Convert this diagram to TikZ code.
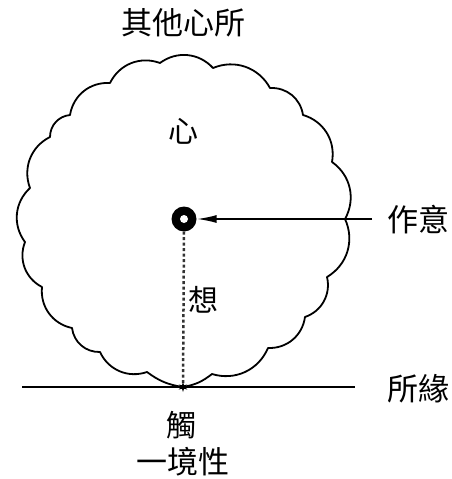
\documentclass[tikz,border=0pt]{standalone}
\usepackage{fontspec}
\newfontfamily\cjk{Noto Sans CJK TC}
\usetikzlibrary{arrows.meta,shapes.geometric}
\begin{document}
\begin{tikzpicture}[x=1pt,y=-1pt,
  lbl/.style={font=\cjk\fontsize{31}{32}\selectfont, inner sep=0pt},
  slbl/.style={font=\cjk\fontsize{30}{31}\selectfont, inner sep=0pt},
  cloudline/.style={line width=1.8pt, line join=round},
  bump/.style={bend left=42},
  flat/.style={bend left=14}]
\useasboundingbox (0,0) rectangle (452,479);
% cloud cusp points
\coordinate (c0) at (183,387);
\coordinate (c1) at (147,372);
\coordinate (c2) at (100,352);
\coordinate (c3) at (72,328);
\coordinate (c4) at (42,287);
\coordinate (c5) at (25,242);
\coordinate (c6) at (30,188);
\coordinate (c7) at (50,137);
\coordinate (c8) at (70,115);
\coordinate (c9) at (110,83);
\coordinate (c10) at (160,63);
\coordinate (c11) at (213,68);
\coordinate (c12) at (270,88);
\coordinate (c13) at (303,115);
\coordinate (c14) at (332,162);
\coordinate (c15) at (345,219);
\coordinate (c16) at (327,277);
\coordinate (c17) at (305,317);
\coordinate (c18) at (268,348);
\coordinate (c19) at (212,374);
\draw[cloudline] (c0) to[flat] (c1) to[bump] (c2) to[bump] (c3) to[bump] (c4)
  to[bump] (c5) to[bump] (c6) to[bump] (c7) to[bump] (c8) to[bump] (c9)
  to[bump] (c10) to[bump] (c11) to[bump] (c12) to[bump] (c13) to[bump] (c14)
  to[bump] (c15) to[bump] (c16) to[bump] (c17) to[bump] (c18) to[bump] (c19)
  to[flat] (c0);
% ground line
\coordinate (gl) at (22,387);
\coordinate (gr) at (355,387);
\draw[line width=1.8pt] (gl) -- (gr);
% centre dot
\node[circle, fill=black, minimum size=25pt, inner sep=0pt] (dot) at (184,219) {};
\node[circle, fill=white, minimum size=8pt, inner sep=0pt] (doti) at (dot.center) {};
% dotted line
\draw[line width=2.5pt, black!80, dash pattern=on 3pt off 2.5pt] (dot.south) -- (c0);
% contact star
\node[star, star points=6, star point ratio=2.5, fill=black, minimum size=10pt, inner sep=0pt] (st) at (c0) {};
% arrow
\coordinate (ar) at (372,219);
\draw[line width=1.8pt, -{Latex[length=20pt,width=8pt]}] (ar) -- (dot.east);
% labels
\node[lbl] (t1) at (183,23) {其他心所};
\node[slbl] (t2) at (183,131) {心};
\node[lbl] (t3) at (418,220) {作意};
\node[slbl] (t4) at (203,300) {想};
\node[lbl] (t5) at (418,389) {所緣};
\node[slbl] (t6) at (181,425) {觸};
\node[lbl] (t7) at (183,462) {一境性};
\end{tikzpicture}
\end{document}
